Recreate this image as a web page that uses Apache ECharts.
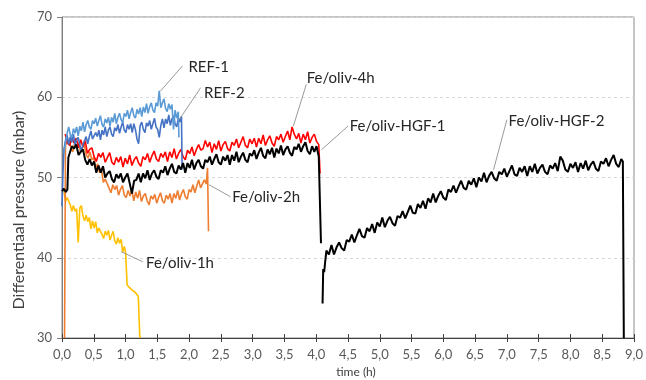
<!DOCTYPE html>
<html><head><meta charset="utf-8">
<script src="https://cdn.jsdelivr.net/npm/echarts@6/dist/echarts.min.js"></script>
<style>html,body{margin:0;padding:0;background:#fff}#c{width:646px;height:380px}</style>
</head><body><div id="c"></div>
<script>
// ---------- tick labels ----------
const xTickLabels = ['0,0','0,5','1,0','1,5','2,0','2,5','3,0','3,5','4,0','4,5','5,0','5,5','6,0','6,5','7,0','7,5','8,0','8,5','9,0'];
const yTickLabels = ['30','40','50','60','70'];
const seriesNames = ['REF-1','REF-2','Fe/oliv-1h','Fe/oliv-2h','Fe/oliv-4h','Fe/oliv-HGF-1','Fe/oliv-HGF-2'];

// ---------- REF-1 (sampled from t=0.03, every 0.025 h) ----------
const ref1Head = [];
const ref1Start = 0.03, ref1Step = 0.025;
const ref1Values = [53.0,54.3,55.5,56.3,55.3,55.0,56.1,55.5,56.3,55.2,
  56.4,55.8,56.9,55.7,56.6,57.1,56.3,56.0,57.1,56.7,
  57.4,56.4,57.1,57.7,56.6,56.3,57.3,56.8,57.5,56.4,
  57.5,56.9,58.0,56.7,57.5,58.0,57.2,56.8,58.0,57.6,
  58.4,57.3,58.1,58.7,57.7,57.4,58.5,57.9,58.7,57.6,
  58.8,58.1,59.2,58.0,58.8,59.3,58.4,58.1,59.3,58.9,
  60.8,58.7,59.3,59.8,58.6,58.2,59.2,58.5,59.1,56.0,
  58.4,57.4,58.2];
const ref1Tail = [[1.84, 55.0]];

// ---------- REF-2 ----------
const ref2Head = [[0.0, 46.4],[0.015, 50.5]];
const ref2Start = 0.03, ref2Step = 0.025;
const ref2Values = [53.5,54.6,55.3,54.1,55.1,54.4,55.4,54.0,54.7,55.0,
  54.1,53.3,54.1,54.1,55.1,54.2,55.1,55.8,54.8,54.6,
  55.6,55.1,55.9,54.7,55.9,55.3,56.3,55.1,55.9,56.3,
  55.4,55.1,56.2,55.8,56.6,55.5,56.3,56.9,55.9,55.6,
  56.6,56.0,56.7,55.6,56.7,56.0,54.8,54.2,56.5,56.9,
  56.0,55.6,56.8,56.4,57.1,56.0,56.7,57.4,56.3,56.0,
  55.0,56.5,57.3,56.2,57.3,56.7,57.8,56.5,57.3,57.7,
  56.7,56.3,57.4,56.9,57.6];
const ref2Tail = [[1.89, 51.0]];

// ---------- Fe/oliv-1h ----------
const oliv1hHead = [];
const oliv1hStart = 0.03, oliv1hStep = 0.025;
const oliv1hValues = [48.5,47.0,47.5,47.7,46.6,45.8,46.5,45.8,46.1,41.9,
  46.2,46.5,45.2,44.6,45.3,44.5,45.0,43.6,44.6,43.7,
  44.5,43.1,43.7,43.9,42.9,42.4,43.3,42.8,43.4,42.2,
  42.8,43.3,42.1,41.7,42.5,41.8,42.3,40.7,41.4];
const oliv1hTail = [[1.0,40.7],[1.025,36.6],[1.06,36.3],[1.1,36.0],[1.15,35.7],[1.2,35.2],[1.215,35.0],[1.225,30.0]];

// ---------- Fe/oliv-2h ----------
const oliv2hHead = [[0.04, 30.0],[0.055, 54.0]];
const oliv2hStart = 0.08, oliv2hStep = 0.03;
const oliv2hValues = [54.4,54.7,53.7,53.2,54.3,53.8,54.4,53.2,53.7,54.1,
  52.9,52.4,53.2,52.2,52.5,51.0,51.7,50.6,51.1,49.4,
  49.8,49.8,48.7,48.1,49.1,48.5,49.0,47.8,48.5,49.0,
  47.8,47.5,48.4,47.7,48.4,47.1,48.2,47.4,48.4,47.0,
  47.7,48.0,47.1,46.6,47.7,47.3,47.9,46.8,47.5,48.1,
  47.1,46.8,47.8,47.3,48.0,46.8,48.0,47.4,48.4,47.2,
  48.0,48.5,47.6,47.3,48.5,48.2,49.1,48.1,48.9,49.7,
  48.7,48.5,49.7,49.2];
const oliv2hTail = [[2.29, 51.2],[2.305, 43.3]];

// ---------- Fe/oliv-4h ----------
const oliv4hHead = [];
const oliv4hStart = 0.05, oliv4hStep = 0.035;
const oliv4hValues = [55.4,54.3,54.0,54.9,54.3,54.9,53.7,54.7,53.8,54.6,
  53.0,53.5,53.7,52.6,52.0,53.0,52.5,53.1,51.9,52.5,
  53.1,51.9,51.6,52.5,51.9,52.6,51.3,52.4,51.7,52.8,
  51.5,52.2,52.6,51.8,51.4,52.6,52.2,53.0,51.9,52.7,
  53.3,52.3,52.0,53.0,52.5,53.2,52.0,53.2,52.5,53.6,
  52.3,53.0,53.5,52.6,52.2,53.4,53.0,53.8,52.7,53.5,
  54.1,53.4,53.6,54.6,53.8,54.4,53.1,54.2,53.5,54.6,
  53.3,54.1,54.5,53.6,53.3,54.4,54.0,54.8,53.7,54.4,
  55.1,54.0,53.7,54.8,54.2,54.9,53.8,54.9,54.2,55.3,
  54.0,54.7,55.2,54.3,53.9,55.1,54.7,55.4,54.4,55.1,
  55.8,54.7,56.3,55.4,54.8,55.5,54.3,55.4,54.7,55.7,
  54.3,55.0,55.4,54.5,54.1];
const oliv4hTail = [[4.06, 50.5]];

// ---------- Fe/oliv-HGF-1 ----------
const hgf1Head = [[0.0,48.3],[0.03,48.6],[0.06,48.2],[0.085,48.5],[0.1,52.5]];
const hgf1Start = 0.12, hgf1Step = 0.035;
const hgf1Values = [52.7,53.9,53.6,54.1,52.8,53.2,53.5,52.2,51.6,52.3,
  51.5,52.0,50.6,51.5,50.6,51.4,50.0,50.5,50.8,49.8,
  49.4,50.4,49.9,50.5,49.4,50.0,50.5,49.3,48.0,49.6,
  49.7,50.5,49.4,50.5,49.9,50.9,49.7,50.5,50.9,50.1,
  49.8,50.9,50.6,51.4,50.3,51.1,51.7,50.7,50.5,51.5,
  51.0,51.8,50.6,51.8,51.2,52.2,51.0,51.8,52.2,51.4,
  51.1,52.2,51.9,52.6,51.6,52.3,52.9,51.9,51.6,52.6,
  52.1,52.8,51.6,52.8,52.1,53.2,51.9,52.6,53.1,52.2,
  51.9,53.0,52.7,53.4,52.3,53.1,53.7,52.7,52.4,53.5,
  52.9,53.7,52.5,53.6,53.0,54.0,52.8,53.5,53.9,53.1,
  52.7,53.8,53.5,54.2,53.2,53.9,54.4,53.3,52.9,53.9,
  53.2,53.9,52.6];
const hgf1Tail = [[4.06, 52.8],[4.075, 41.8]];

// ---------- Fe/oliv-HGF-2 ----------
const hgf2Head = [[4.1,34.3],[4.11,38.6],[4.125,38.2],[4.14,39.4]];
const hgf2Start = 4.16, hgf2Step = 0.04;
const hgf2Values = [40.9,40.4,41.6,40.4,41.3,41.9,41.2,40.9,42.2,42.0,
  42.9,41.9,42.8,43.6,42.7,42.5,43.7,43.3,44.2,43.1,
  44.4,43.9,45.0,43.8,44.6,45.1,44.3,44.0,45.2,45.0,
  45.8,44.9,45.7,46.5,45.6,45.5,46.7,46.2,47.1,46.1,
  47.4,46.9,48.0,46.9,47.7,48.3,47.5,47.2,48.5,48.2,
  49.0,48.1,48.9,49.6,48.7,48.5,49.6,49.1,49.9,48.8,
  50.0,49.5,50.6,49.4,50.2,50.7,49.9,49.6,50.7,50.4,
  51.1,50.1,50.8,51.5,50.4,50.2,51.2,50.7,51.4,50.2,
  51.4,50.7,51.7,50.5,51.2,51.6,50.7,50.4,51.5,51.1,
  51.8,50.8,52.6,52.1,51.0,50.7,51.7,51.2,51.9,50.7,
  51.8,51.1,52.1,50.9,51.6,52.0,51.1,50.8,52.0,51.7,
  52.4,51.4,52.2,52.8,51.7,51.3,52.3];
const hgf2Tail = [[8.825, 52.0],[8.84, 30.0]];

// ---------- annotation anchors (data coords: curve point, leader end, text start) ----------
const annotations = {
  'REF-1':        {from:[1.547,60.75], to:[1.895,63.9], text:[1.99,63.8]},
  'REF-2':        {from:[1.844,57.2],  to:[2.183,61.2], text:[2.234,60.55]},
  'Fe/oliv-1h':   {from:[0.933,40.75], to:[1.27,39.5],  text:[1.323,39.3]},
  'Fe/oliv-2h':   {from:[2.3125,49.1], to:[2.652,47.6], text:[2.677,47.6]},
  'Fe/oliv-4h':   {from:[3.64,56.4],   to:[3.844,61.6], text:[3.85,62.4]},
  'Fe/oliv-HGF-1':{from:[4.083,53.46], to:[4.5,56.4],   text:[4.527,56.4]},
  'Fe/oliv-HGF-2':{from:[6.79,50.96],  to:[7.0,57.2],   text:[7.027,57.0]}
};

function build(head, start, step, vals, tail) {
  const d = head.slice();
  vals.forEach((v, i) => d.push([+(start + i * step).toFixed(4), v]));
  return d.concat(tail);
}

const seriesData = {
  'REF-1': build(ref1Head, ref1Start, ref1Step, ref1Values, ref1Tail),
  'REF-2': build(ref2Head, ref2Start, ref2Step, ref2Values, ref2Tail),
  'Fe/oliv-1h': build(oliv1hHead, oliv1hStart, oliv1hStep, oliv1hValues, oliv1hTail),
  'Fe/oliv-2h': build(oliv2hHead, oliv2hStart, oliv2hStep, oliv2hValues, oliv2hTail),
  'Fe/oliv-4h': build(oliv4hHead, oliv4hStart, oliv4hStep, oliv4hValues, oliv4hTail),
  'Fe/oliv-HGF-1': build(hgf1Head, hgf1Start, hgf1Step, hgf1Values, hgf1Tail),
  'Fe/oliv-HGF-2': build(hgf2Head, hgf2Start, hgf2Step, hgf2Values, hgf2Tail)
};

const colors = {
  'REF-1':'#5B9BD5','REF-2':'#4472C4','Fe/oliv-1h':'#FFC000','Fe/oliv-2h':'#ED7D31',
  'Fe/oliv-4h':'#FF0000','Fe/oliv-HGF-1':'#000000','Fe/oliv-HGF-2':'#000000'
};
const widths = {'Fe/oliv-HGF-1':2,'Fe/oliv-HGF-2':2};
const drawOrder = ['Fe/oliv-1h','Fe/oliv-2h','Fe/oliv-4h','REF-2','REF-1','Fe/oliv-HGF-1','Fe/oliv-HGF-2'];

const FONT = 'Lato, "Open Sans", sans-serif';

const series = drawOrder.map(name => {
  const a = annotations[name];
  return {
    name, type:'line', data: seriesData[name], showSymbol:false, symbol:'none',
    sampling: null, smooth:false,
    lineStyle:{color:colors[name], width: widths[name] || 1.6},
    itemStyle:{color:colors[name]},
    markLine:{
      silent:true, symbol:'none', animation:false,
      lineStyle:{color:'#808080', width:0.8, type:'solid'},
      label:{show:false},
      data:[[{coord:a.from},{coord:a.to}]]
    },
    markPoint:{
      silent:true, symbol:'circle', symbolSize:0, animation:false,
      data:[{coord:a.text, value:name,
        label:{show:true, position:'right', distance:0, formatter:name,
          color:'#262626', fontSize:15, fontFamily:FONT}}]
    }
  };
});

const chart = echarts.init(document.getElementById('c'), null, {renderer:'canvas'});
chart.setOption({
  animation:false,
  backgroundColor:'#ffffff',
  grid:{left:62, right:7, top:17, bottom:42, show:true, borderColor:'#8c8c8c', borderWidth:1, backgroundColor:'transparent'},
  xAxis:[{
    type:'value', min:0, max:9, interval:0.5,
    axisLine:{show:true, onZero:false, lineStyle:{color:'#404040', width:1}},
    axisTick:{show:true, inside:false, length:4, lineStyle:{color:'#404040'}},
    axisLabel:{color:'#595959', fontSize:13, fontFamily:FONT, margin:10,
      formatter:v => xTickLabels[Math.round(v / 0.5)]},
    splitLine:{show:false}
  },{
    type:'value', min:0, max:9, interval:0.5, position:'bottom', offset:0,
    axisLine:{show:false}, axisLabel:{show:false}, splitLine:{show:false},
    axisTick:{show:true, inside:true, length:4, lineStyle:{color:'#404040'}}
  }],
  yAxis:{
    type:'value', min:30, max:70, interval:10,
    axisLine:{show:true, onZero:false, lineStyle:{color:'#7f7f7f', width:1}},
    axisTick:{show:true, length:5, lineStyle:{color:'#7f7f7f'}},
    axisLabel:{color:'#595959', fontSize:13, fontFamily:FONT, margin:10,
      formatter:v => yTickLabels[Math.round((v - 30) / 10)]},
    splitLine:{show:true, lineStyle:{color:'#d9d9d9', type:[3,3], width:1}}
  },
  graphic:[
    {type:'text', x:19, y:210, rotation:Math.PI/2,
      style:{text:'Differentiaal pressure (mbar)', fill:'#404040', font:'16px ' + FONT,
        align:'center', verticalAlign:'middle', textAlign:'center', textVerticalAlign:'middle'}},
    {type:'text', x:356, y:372,
      style:{text:'time (h)', fill:'#404040', font:'12px ' + FONT,
        align:'center', verticalAlign:'middle', textAlign:'center', textVerticalAlign:'middle'}}
  ],
  series
});
</script></body></html>
